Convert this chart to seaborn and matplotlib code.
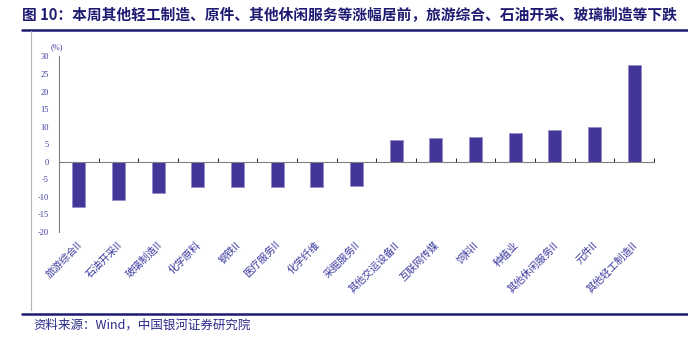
import numpy as np
import matplotlib
matplotlib.use("Agg")
import matplotlib.pyplot as plt
from matplotlib.lines import Line2D
import seaborn as sns

# Weekly change by sub-industry (%)
categories = ["旅游综合II", "石油开采II", "玻璃制造II", "化学原料", "钢铁II",
              "医疗服务II", "化学纤维", "采掘服务II", "其他交运设备II", "互联网传媒",
              "饲料II", "种植业", "其他休闲服务II", "元件II", "其他轻工制造II"]
values = [-13.0, -10.8, -8.9, -7.2, -7.1, -7.1, -7.1, -6.8,
          6.1, 6.9, 7.2, 8.3, 9.2, 9.9, 27.7]
y_ticks = [30, 25, 20, 15, 10, 5, 0, -5, -10, -15, -20]

title = "图 10：本周其他轻工制造、原件、其他休闲服务等涨幅居前，旅游综合、石油开采、玻璃制造等下跌"
source = "资料来源：Wind，中国银河证券研究院"

sns.set_theme(style="white")
plt.rcParams["font.family"] = ["Noto Sans CJK SC", "DejaVu Sans"]

BAR = "#433699"
NAVY = "#1e1a72"
LABEL = "#3a3aa0"
AXIS = "#808080"

fig = plt.figure(figsize=(6.88, 3.38), dpi=100)
ax = fig.add_axes([59 / 688, 1 - 232 / 338, 595 / 688, 175.5 / 338])

sns.barplot(x=categories, y=values, color=BAR, width=0.33, saturation=1,
            edgecolor="#8f86c8", linewidth=0.4, ax=ax)

ax.set_xlim(-0.5, len(categories) - 0.5)
ax.set_ylim(-20, 30)
ax.set_yticks(y_ticks)
ax.set_yticklabels([str(v) for v in y_ticks], family="Liberation Serif",
                   fontsize=6, color=LABEL)
ax.set_xlabel("")
ax.set_ylabel("")

for s in ("top", "right"):
    ax.spines[s].set_visible(False)
ax.spines["left"].set_color(AXIS)
ax.spines["left"].set_linewidth(0.8)
ax.spines["bottom"].set_position(("data", 0))
ax.spines["bottom"].set_color(AXIS)
ax.spines["bottom"].set_linewidth(0.8)

ax.tick_params(axis="y", direction="out", length=2.5, width=0.6, color="#444444", pad=5)
# category boundaries carry small ticks on the zero line
ax.set_xticks(np.arange(len(categories)))
ax.set_xticklabels([])
ax.tick_params(axis="x", which="major", length=0)
ax.set_xticks(np.arange(-0.5, len(categories), 1), minor=True)
ax.tick_params(axis="x", which="minor", direction="in", length=3, width=0.7,
               color="#222222", bottom=True)

xt = ax.get_xaxis_transform()
for i, name in enumerate(categories):
    ax.text(i + 0.05, -0.065, name, transform=xt, rotation=45,
            rotation_mode="anchor", ha="right", va="center",
            fontsize=7.3, color=LABEL)

fig.text(57 / 688, 1 - 47 / 338, "(%)", family="Liberation Serif",
         fontsize=6, color=LABEL, ha="center", va="center")

fig.text(22 / 688, 1 - 15.5 / 338, title, fontsize=10.6, fontweight="bold",
         color=NAVY, ha="left", va="center")
fig.text(33 / 688, 1 - 325 / 338, source, fontsize=9, style="italic",
         color="#2a2a8a", ha="left", va="center")

fig.add_artist(Line2D([22 / 688, 1.0], [1 - 29.5 / 338] * 2, color=NAVY,
                      linewidth=1.8, transform=fig.transFigure))
fig.add_artist(Line2D([22 / 688, 1.0], [1 - 313.5 / 338] * 2, color=NAVY,
                      linewidth=1.8, transform=fig.transFigure))
fig.add_artist(Line2D([31 / 688] * 2, [1 - 31 / 338, 1 - 310 / 338],
                      color="#b5b5b5", linewidth=0.8, transform=fig.transFigure))

fig.savefig("out.png", dpi=100)
